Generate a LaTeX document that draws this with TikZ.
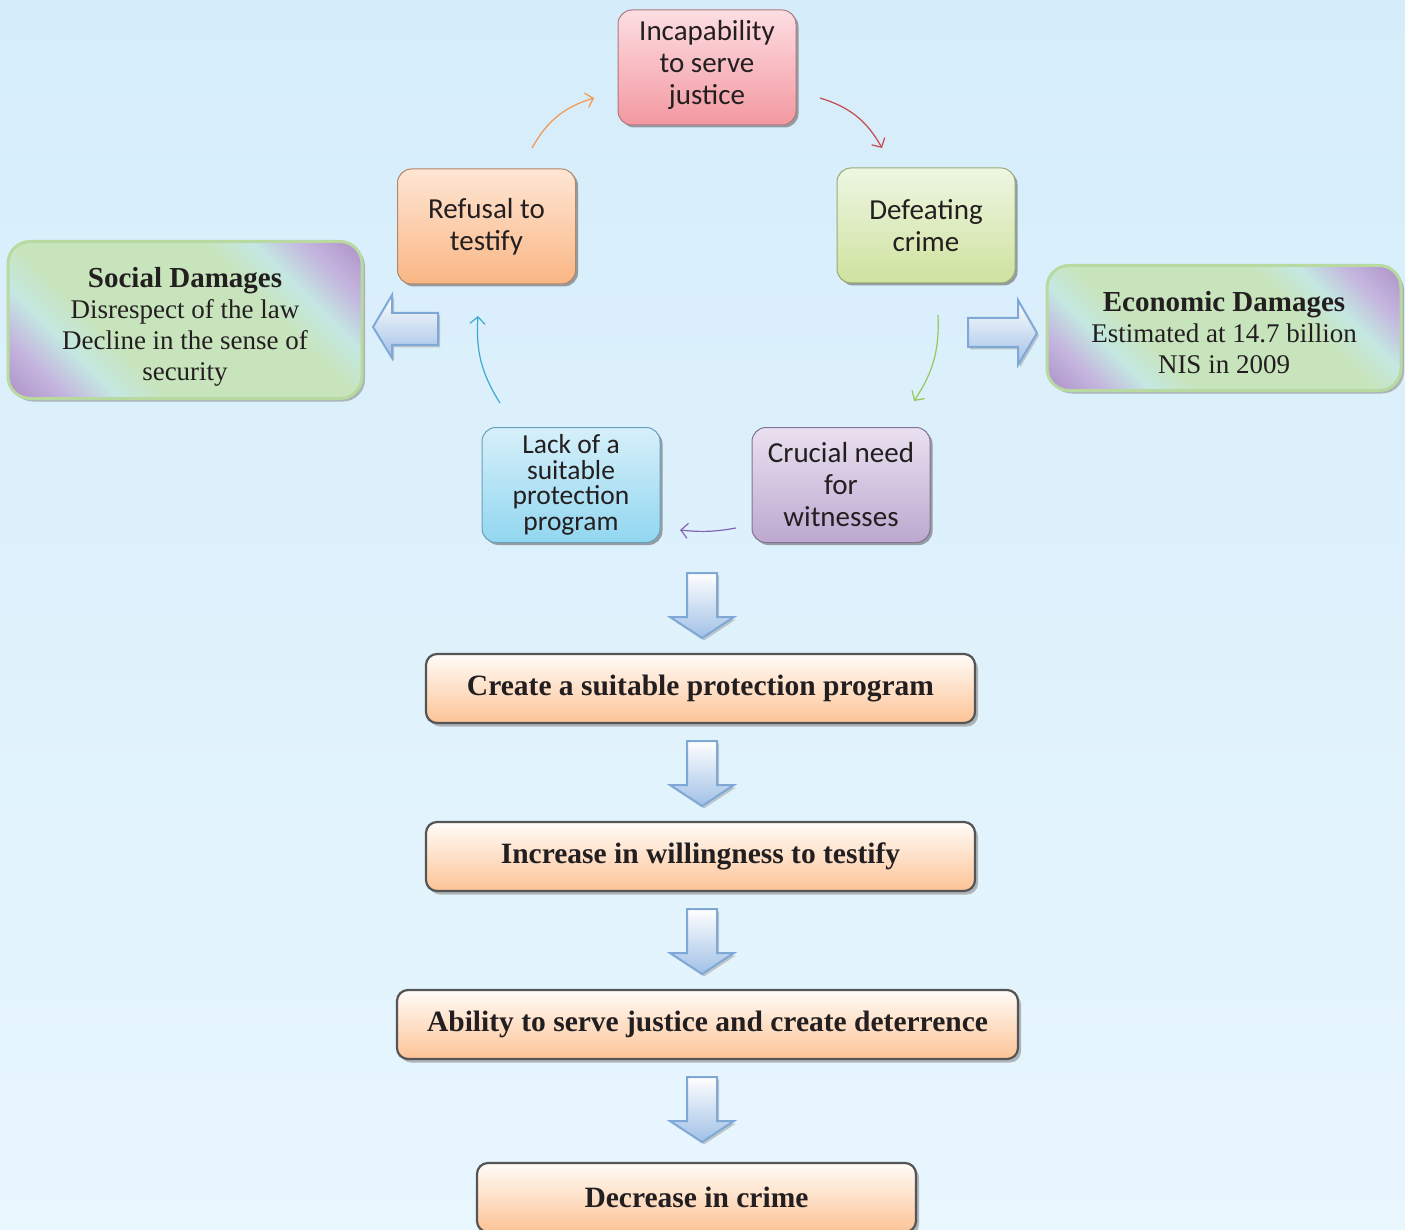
\documentclass[tikz,border=0pt]{standalone}
\usepackage{fontspec}
\setmainfont{Liberation Serif}
\newfontfamily\cycfont{Carlito}
\usetikzlibrary{shadows,arrows.meta,shadings}
\definecolor{bgtop}{RGB}{213,237,250}
\definecolor{bgbot}{RGB}{232,246,254}
\definecolor{txt}{RGB}{35,31,32}
\definecolor{pinkT}{RGB}{252,222,226}\definecolor{pinkB}{RGB}{243,152,160}\definecolor{pinkD}{RGB}{175,120,128}
\definecolor{oraT}{RGB}{254,230,212}\definecolor{oraB}{RGB}{250,182,132}\definecolor{oraD}{RGB}{175,135,105}
\definecolor{grnT}{RGB}{238,246,226}\definecolor{grnB}{RGB}{207,226,158}\definecolor{grnD}{RGB}{150,170,120}
\definecolor{bluT}{RGB}{214,240,250}\definecolor{bluB}{RGB}{146,214,240}\definecolor{bluD}{RGB}{105,160,185}
\definecolor{purT}{RGB}{234,225,240}\definecolor{purB}{RGB}{188,168,208}\definecolor{purD}{RGB}{130,115,150}
\definecolor{dpur}{RGB}{174,146,200}
\definecolor{dlav}{RGB}{196,182,222}
\definecolor{dcya}{RGB}{196,232,226}
\definecolor{dgrn}{RGB}{200,228,188}
\definecolor{dbord}{RGB}{184,218,160}
\definecolor{boxT}{RGB}{255,252,248}
\definecolor{boxB}{RGB}{253,195,150}
\definecolor{boxD}{RGB}{85,85,85}
\definecolor{arrB}{RGB}{160,192,230}
\definecolor{arrD}{RGB}{128,168,215}
\definecolor{cOra}{RGB}{245,150,80}
\definecolor{cRed}{RGB}{198,72,82}
\definecolor{cGrn}{RGB}{150,200,90}
\definecolor{cPur}{RGB}{130,100,180}
\definecolor{cTea}{RGB}{60,170,205}
\pgfdeclarehorizontalshading{dmgshade}{100bp}{color(0bp)=(dpur); color(15bp)=(dpur); color(23bp)=(dlav); color(30bp)=(dcya); color(37bp)=(dgrn); color(63bp)=(dgrn); color(70bp)=(dcya); color(77bp)=(dlav); color(85bp)=(dpur); color(100bp)=(dpur)}
\tikzset{
  cycbox/.style n args={3}{rectangle, rounded corners=14pt, minimum width=178pt, minimum height=115pt,
    draw=#3, line width=1pt, top color=#1, bottom color=#2,
    drop shadow={shadow xshift=2.5pt, shadow yshift=-2.5pt, fill=black!60, opacity=0.6},
    align=center, text=txt, inner sep=0pt, font=\cycfont\fontsize{29}{32}\selectfont},
  cyctext/.style={align=center, text=txt, inner sep=0pt, font=\cycfont\fontsize{29}{32}\selectfont},
  dmgbox/.style={rectangle, rounded corners=22pt, minimum width=354pt, draw=dbord, line width=3pt,
    shading=dmgshade, shading angle=45,
    drop shadow={shadow xshift=3pt, shadow yshift=-3pt, fill=black!45, opacity=0.6}},
  dmgtext/.style={align=center, text=txt, inner sep=0pt, font=\fontsize{27}{31}\selectfont},
  stepbox/.style={rectangle, rounded corners=11pt, minimum height=69pt, draw=boxD, line width=2.2pt,
    top color=boxT, bottom color=boxB,
    drop shadow={shadow xshift=3pt, shadow yshift=-3.5pt, fill=black!45, opacity=0.6},
    align=center, text=txt, inner sep=0pt, font=\fontsize{29.5}{32}\selectfont\bfseries},
  barrow/.style={draw=arrD, line width=2pt, line join=miter, top color=white, bottom color=arrB,
    drop shadow={shadow xshift=2pt, shadow yshift=-2.5pt, fill=black!40, opacity=0.5}},
  thinarr/.style={line width=1.2pt, -{Straight Barb[length=7pt,width=15pt]}}
}
\begin{document}
\begin{tikzpicture}[x=1pt,y=1pt]
\useasboundingbox (0,0) rectangle (1405,-1230);
\clip (0,0) rectangle (1405,-1230);
\fill[top color=bgtop, bottom color=bgbot] (0,0) rectangle (1405,-1230);

% cycle nodes
\node[cycbox={pinkT}{pinkB}{pinkD}] (incbox) at (707,-67.5) {};
\node[cyctext] (inc) at (707,-64.5) {Incapability\\to serve\\justice};
\node[cycbox={oraT}{oraB}{oraD}] (ref) at (486.5,-226.5) {Refusal to\\testify};
\node[cycbox={grnT}{grnB}{grnD}] (def) at (926,-225.5) {Defeating\\crime};
\node[cycbox={bluT}{bluB}{bluD}, font=\cycfont\fontsize{27.5}{25.5}\selectfont] (lack) at (571,-485) {Lack of a\\suitable\\protection\\program};
\node[cycbox={purT}{purB}{purD}] (cru) at (841,-485) {Crucial need\\for\\witnesses};

% damage boxes
\node[dmgbox, minimum height=157pt] (socbox) at (185,-320) {};
\node[dmgtext] (soc) at (185,-327) {{\fontsize{29}{31}\selectfont\bfseries Social Damages}\\Disrespect of the law\\Decline in the sense of\\security};
\node[dmgbox, minimum height=125pt] (ecobox) at (1224,-328) {};
\node[dmgtext] (eco) at (1224,-332.5) {{\fontsize{29}{31}\selectfont\bfseries Economic Damages}\\Estimated at 14.7 billion\\NIS in 2009};

% thin cycle arrows
\coordinate (o1) at (532,-148); \coordinate (o2) at (594,-98);
\coordinate (r1) at (820,-98);  \coordinate (r2) at (882,-148);
\coordinate (g1) at (938,-315); \coordinate (g2) at (914,-401);
\coordinate (p1) at (736,-528); \coordinate (p2) at (680,-530);
\coordinate (t1) at (500,-403); \coordinate (t2) at (478,-316);
\draw[thinarr, cOra] (o1) to[bend left=22] (o2);
\draw[thinarr, cRed] (r1) to[bend left=22] (r2);
\draw[thinarr, cGrn] (g1) to[bend left=18] (g2);
\draw[thinarr, cPur] (p1) to[bend left=8] (p2);
\draw[thinarr, cTea] (t1) to[bend left=18] (t2);

% side block arrows
\draw[barrow] (438,-313) -- (438,-345) -- (392,-345) -- (392,-358) -- (373,-327) -- (392,-295) -- (392,-313) -- cycle;
\draw[barrow] (968,-318) -- (1018,-318) -- (1018,-300) -- (1037,-333) -- (1018,-365) -- (1018,-347) -- (968,-347) -- cycle;

% step boxes
\node[stepbox, minimum width=549pt] (cre) at (700.5,-688.5) {Create a suitable protection program};
\node[stepbox, minimum width=549pt] (incr) at (700.5,-856.5) {Increase in willingness to testify};
\node[stepbox, minimum width=621pt] (abil) at (707.5,-1024.5) {Ability to serve justice and create deterrence};
\node[stepbox, minimum width=439pt] (dec) at (696.5,-1197.5) {Decrease in crime};

% down block arrows
\foreach \yt in {573,741,909,1077}{
  \draw[barrow, shift={(702,-\yt)}] (-15,0) -- (15,0) -- (15,-44) -- (32,-44) -- (0,-65) -- (-32,-44) -- (-15,-44) -- cycle;
}
\end{tikzpicture}
\end{document}
